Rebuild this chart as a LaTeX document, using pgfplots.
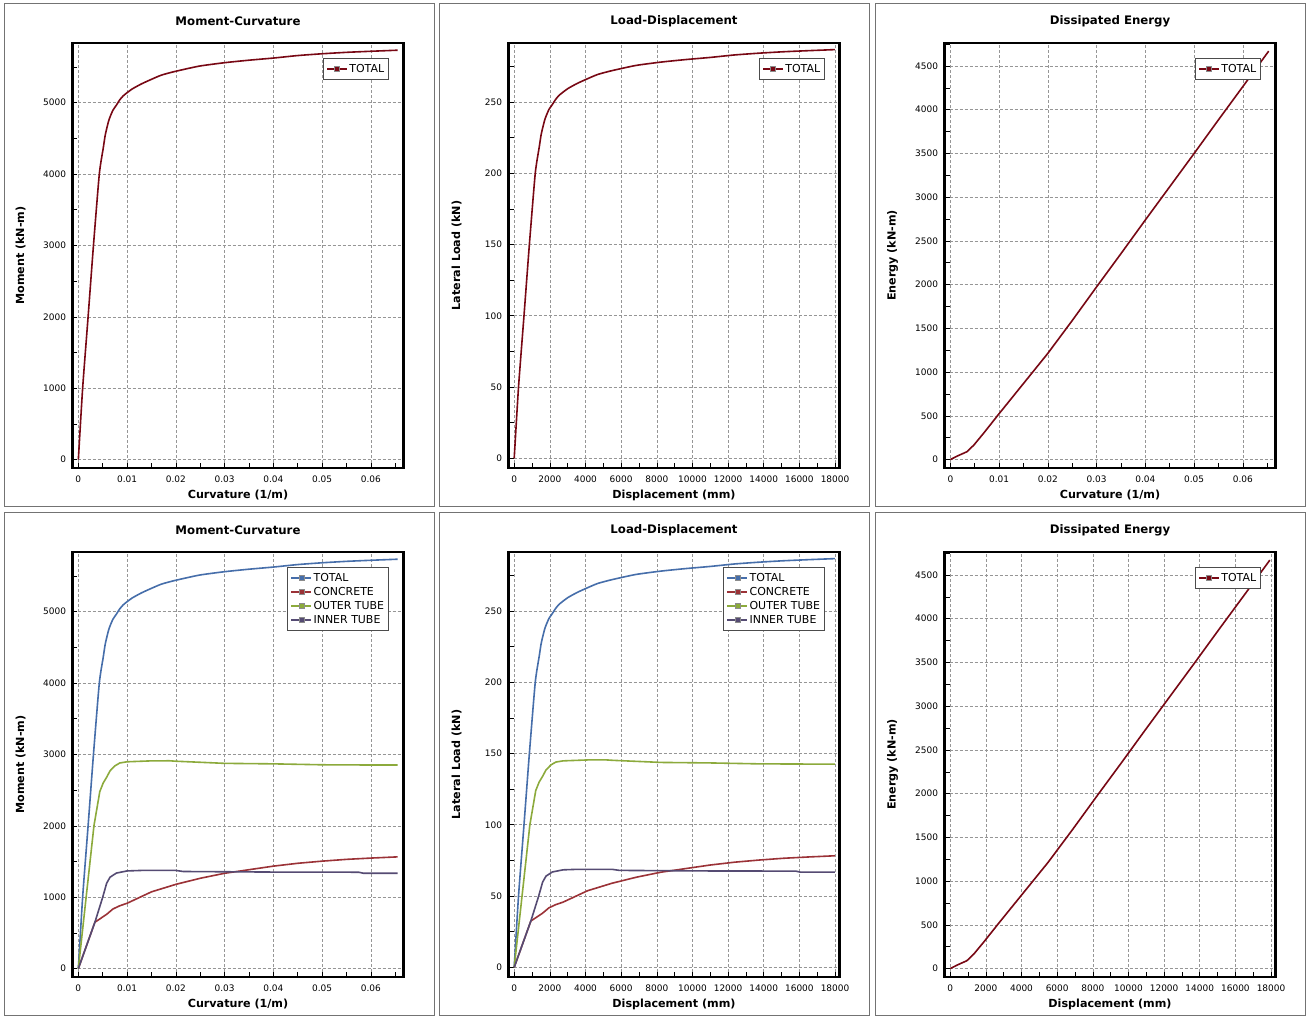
\documentclass[border=0pt]{standalone}
\usepackage{pgfplots}
\pgfplotsset{compat=1.18}
\usepackage{pgfplotstable}
\usepackage{fontspec}
\setmainfont{DejaVu Sans}

\definecolor{totalred}{RGB}{120,8,20}
\definecolor{cblue}{RGB}{70,110,170}
\definecolor{cred}{RGB}{155,50,55}
\definecolor{cgreen}{RGB}{140,170,60}
\definecolor{cpurple}{RGB}{85,75,115}
\definecolor{gridgray}{RGB}{150,150,150}

% moment-curvature, total
\pgfplotstableread{
k m
0 0
0.00088 1000
0.0020 2000
0.0031 3000
0.0043 4000
0.0051 4360
0.0055 4540
0.0059 4660
0.0062 4740
0.0065 4800
0.0071 4895
0.0078 4965
0.0085 5040
0.0092 5095
0.0100 5140
0.0110 5190
0.0119 5225
0.0130 5265
0.0146 5315
0.0170 5385
0.0198 5437
0.0248 5512
0.0300 5560
0.0350 5595
0.0400 5625
0.0450 5660
0.0500 5685
0.0550 5705
0.0600 5720
0.0655 5735
}\mtotal

\pgfplotstableread{
k m
0 0
0.0032 2000
0.0044 2480
0.0051 2600
0.0058 2680
0.0065 2770
0.0075 2840
0.0085 2880
0.0100 2897
0.0150 2910
0.0187 2911
0.0200 2905
0.0300 2875
0.0400 2868
0.0500 2855
0.0600 2852
0.0655 2852
}\mouter

\pgfplotstableread{
k m
0 0
0.0034 650
0.0050 1000
0.0058 1195
0.0065 1280
0.0078 1338
0.0100 1368
0.0130 1375
0.0200 1375
0.0215 1360
0.0400 1352
0.0575 1350
0.0585 1335
0.0655 1335
}\minner

\pgfplotstableread{
k m
0 0
0.0034 650
0.0045 700
0.0058 760
0.0071 835
0.0085 880
0.0100 915
0.0150 1075
0.0200 1180
0.0250 1265
0.0300 1335
0.0350 1385
0.0400 1435
0.0450 1475
0.0500 1505
0.0550 1530
0.0600 1548
0.0655 1565
}\mconc

% load-displacement
\pgfplotstableread{
d l
0 0
242 50
549 100
851 150
1181 200
1400 218
1510 227
1620 233
1703 237
1785 240
1950 244.75
2142 248.25
2334 252
2526 254.75
2746 257
3021 259.5
3268 261.25
3570 263.25
4009 265.75
4668 269.25
5437 271.85
6810 275.6
8238 278
9611 279.75
10984 281.25
12357 283
13730 284.25
15103 285.25
16476 286
17986 286.75
}\ltotal

\pgfplotstableread{
d l
0 0
879 100
1208 124
1400 130
1593 134
1785 138.5
2060 142
2334 144
2746 144.85
4119 145.5
5135 145.55
5492 145.25
8238 143.75
10984 143.4
13730 142.75
16476 142.6
17986 142.6
}\louter

\pgfplotstableread{
d l
0 0
934 32.5
1373 50
1593 59.75
1785 64
2142 66.9
2746 68.4
3570 68.75
5492 68.75
5904 68
10984 67.6
15790 67.5
16064 66.75
17986 66.75
}\linner

\pgfplotstableread{
d l
0 0
934 32.5
1236 35
1593 38
1950 41.75
2334 44
2746 45.75
4119 53.75
5492 59
6865 63.25
8238 66.75
9611 69.25
10984 71.75
12357 73.75
13730 75.25
15103 76.5
16476 77.4
17986 78.25
}\lconc

% dissipated energy
\pgfplotstableread{
k e
0 0
0.0014 40
0.0034 90
0.0048 165
0.0068 300
0.0100 525
0.0150 870
0.0200 1215
0.0250 1590
0.0300 1975
0.0350 2355
0.0400 2740
0.0450 3120
0.0500 3500
0.0550 3885
0.0600 4265
0.0653 4670
}\ek

\pgfplotstableread{
d e
0 0
384 40
934 90
1318 165
1867 300
2746 525
4119 870
5492 1215
6865 1590
8238 1975
9611 2355
10984 2740
12357 3120
13730 3500
15103 3885
16476 4265
17931 4670
}\ed

\pgfplotsset{
  panel/.style={
    scale only axis, width=331bp, height=425bp, anchor=south west,
    axis line style={line width=2.6bp},
    grid=major,
    major grid style={gridgray, line width=0.6bp, dash pattern=on 3bp off 2bp},
    tick align=inside, tick pos=left,
    major tick length=5bp, minor tick length=5bp,
    every tick/.style={black, line width=0.6bp},
    tick label style={font=\fontsize{9}{10}\selectfont},
    yticklabel style={xshift=-3bp},
    xticklabel style={yshift=-4bp},
    /pgf/number format/assume math mode=true,
    /pgf/number format/set thousands separator={},
    scaled ticks=false,
    every axis title shift=0pt,
    title style={font=\bfseries\fontsize{11.8}{13}\selectfont, at={(axis description cs:0.5,1.052)}, anchor=center},
    xlabel style={font=\bfseries\fontsize{11.2}{13}\selectfont, at={(axis description cs:0.5,-0.064)}, anchor=center},
    ylabel style={font=\bfseries\fontsize{11.2}{13}\selectfont, at={(axis description cs:-0.157,0.5)}, anchor=center},
    legend style={draw=black!70, line width=0.6bp, font=\fontsize{11}{12}\selectfont,
      at={(axis description cs:0.956,0.964)}, anchor=north east,
      inner xsep=3bp, inner ysep=3.5bp, row sep=0bp,
      nodes={inner sep=1.5bp, text height=8.5bp, text depth=2.5bp}},
    legend cell align=left,
    legend image code/.code={
      \draw[#1, line width=1.6bp] (0bp,0bp) -- (20bp,0bp);
      \filldraw[#1, draw=black!45, line width=0.5bp] (7.5bp,-2.5bp) rectangle (12.5bp,2.5bp);
    },
    every axis plot/.append style={line width=1.6bp},
  },
  curvx/.style={xmin=-0.0012, xmax=0.0667,
    xtick={0,0.01,0.02,0.03,0.04,0.05,0.06},
    minor xtick={0.005,0.015,0.025,0.035,0.045,0.055,0.065},
    xticklabel style={/pgf/number format/fixed, /pgf/number format/precision=2},
    xlabel={Curvature (1/m)}},
  dispx/.style={xmin=-320, xmax=18250,
    xtick={0,2000,4000,6000,8000,10000,12000,14000,16000,18000},
    minor xtick={1000,3000,5000,7000,9000,11000,13000,15000,17000},
    xticklabel style={/pgf/number format/fixed},
    xlabel={Displacement (mm)}},
  momy/.style={ymin=-118, ymax=5836,
    ytick={0,1000,2000,3000,4000,5000},
    minor ytick={500,1500,2500,3500,4500,5500},
    title={Moment-Curvature}, ylabel={Moment (kN-m)}},
  loady/.style={ymin=-6.8, ymax=291.4,
    ytick={0,50,100,150,200,250},
    minor ytick={25,75,125,175,225,275},
    title={Load-Displacement}, ylabel={Lateral Load (kN)}},
  energyy/.style={ymin=-96, ymax=4763,
    ytick={0,500,1000,1500,2000,2500,3000,3500,4000,4500},
    minor ytick={250,750,1250,1750,2250,2750,3250,3750,4250,4750},
    title={Dissipated Energy}, ylabel={Energy (kN-m)}},
  soft/.style={smooth, tension=0.35},
}

\begin{document}
\begin{tikzpicture}
\path[use as bounding box, fill=white] (0bp,0bp) rectangle (1310bp,1021bp);
% panel frames
\foreach \xa/\xb in {4/434,439/869,875/1305}{
  \draw[black!55, line width=1bp] (\xa bp,514bp) rectangle (\xb bp,1017bp);
  \draw[black!55, line width=1bp] (\xa bp,5bp) rectangle (\xb bp,508bp);
}

% top row
\begin{axis}[panel, curvx, momy, at={(72.5bp,553bp)}]
\addplot[color=totalred, soft] table[x=k,y=m]{\mtotal};
\addlegendentry{TOTAL}
\end{axis}

\begin{axis}[panel, dispx, loady, at={(508.5bp,553bp)}]
\addplot[color=totalred, soft] table[x=d,y=l]{\ltotal};
\addlegendentry{TOTAL}
\end{axis}

\begin{axis}[panel, curvx, energyy, at={(944.5bp,553bp)}]
\addplot[color=totalred] table[x=k,y=e]{\ek};
\addlegendentry{TOTAL}
\end{axis}

% bottom row
\begin{axis}[panel, curvx, momy, at={(72.5bp,44bp)}]
\addplot[color=cblue, soft] table[x=k,y=m]{\mtotal};
\addlegendentry{TOTAL}
\addplot[color=cred] table[x=k,y=m]{\mconc};
\addlegendentry{CONCRETE}
\addplot[color=cgreen] table[x=k,y=m]{\mouter};
\addlegendentry{OUTER TUBE}
\addplot[color=cpurple] table[x=k,y=m]{\minner};
\addlegendentry{INNER TUBE}
\end{axis}

\begin{axis}[panel, dispx, loady, at={(508.5bp,44bp)}]
\addplot[color=cblue, soft] table[x=d,y=l]{\ltotal};
\addlegendentry{TOTAL}
\addplot[color=cred] table[x=d,y=l]{\lconc};
\addlegendentry{CONCRETE}
\addplot[color=cgreen] table[x=d,y=l]{\louter};
\addlegendentry{OUTER TUBE}
\addplot[color=cpurple] table[x=d,y=l]{\linner};
\addlegendentry{INNER TUBE}
\end{axis}

\begin{axis}[panel, dispx, energyy, at={(944.5bp,44bp)}]
\addplot[color=totalred] table[x=d,y=e]{\ed};
\addlegendentry{TOTAL}
\end{axis}
\end{tikzpicture}
\end{document}
